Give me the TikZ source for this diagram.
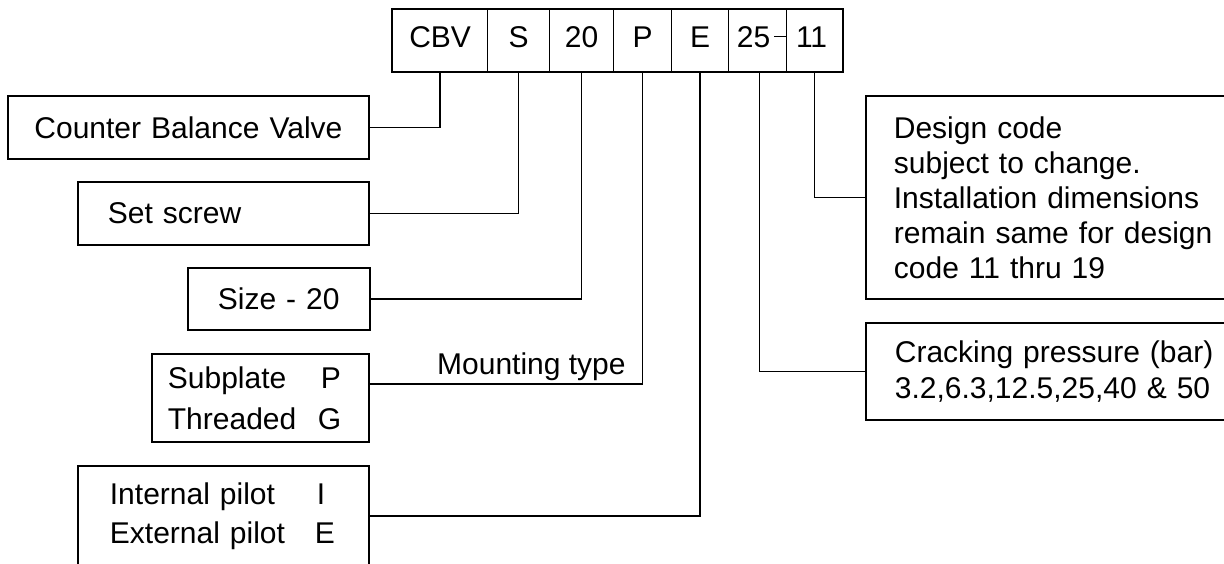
\documentclass[tikz,border=0pt]{standalone}
\usepackage{fontspec}
\setmainfont{Liberation Sans}
\begin{document}
\begin{tikzpicture}[x=1pt,y=-1pt,
  big/.style={font=\fontsize{30}{35}\selectfont},
  cell/.style={draw, line width=1.2pt, anchor=north west, minimum height=62pt,
    inner sep=0pt, text height=14pt, text depth=0pt, big},
  lbox/.style={draw, line width=1.8pt, anchor=north west, inner ysep=0pt, align=left, big},
  conn/.style={line width=1.3pt}]
\useasboundingbox (0,0) rectangle (1224,563);
\clip (0,0) rectangle (1224,563);
% code cells
\node[cell, minimum width=95pt] (cbv) at (392,9) {CBV};
\node[cell, minimum width=62pt] (s) at (487,9) {S};
\node[cell, minimum width=64pt] (n20) at (549,9) {20};
\node[cell, minimum width=58pt] (p) at (613,9) {P};
\node[cell, minimum width=57pt] (e) at (671,9) {E};
\node[cell, minimum width=58pt] (n25) at (728,9) {25\kern8pt};
\node[cell, minimum width=56pt] (n11) at (786,9) {11\kern6pt};
\draw[line width=1.8pt] (cbv.north west) rectangle (n11.south east);
\draw[conn] ([xshift=-13pt,yshift=4pt]n25.east) -- ([xshift=-1pt,yshift=4pt]n25.east);
% left boxes
\node[lbox, inner xsep=0pt, text width=361pt, align=center, minimum height=63pt] (cbvbox) at (7,95) {Counter Balance Valve};
\node[lbox, inner xsep=30pt, text width=231pt, minimum height=63pt] (setbox) at (77,181) {Set screw};
\node[lbox, inner xsep=30pt, text width=122pt, minimum height=62pt] (sizebox) at (187,267) {Size - 20};
\node[lbox, inner xsep=16pt, text width=185pt, minimum height=88pt, font=\fontsize{30}{41}\selectfont] (mountbox) at (151,353)
  {\makebox[153pt][l]{Subplate}P\\\makebox[150pt][l]{Threaded}G};
\node[lbox, inner xsep=32pt, text width=227pt, minimum height=100pt, font=\fontsize{30}{39}\selectfont] (pilotbox) at (77,465)
  {\makebox[207pt][l]{Internal pilot}I\\\makebox[205pt][l]{External pilot}E};
% right boxes
\node[lbox, inner xsep=28pt, text width=344pt, minimum height=203pt] (designbox) at (865,95)
  {Design code\\subject to change.\\Installation dimensions\\remain same for design\\code 11 thru 19};
\node[lbox, inner xsep=29pt, text width=342pt, minimum height=97pt, font=\fontsize{30}{36}\selectfont] (crackbox) at (865,322)
  {Cracking pressure (bar)\\3.2,6.3,12.5,25,40 \& 50};
\node[anchor=base west, inner sep=0pt, big] (mtype) at (437,374) {Mounting type};
% connectors
\draw[conn] (cbv.south) |- (cbvbox.east);
\draw[conn] (s.south) |- (setbox.east);
\draw[conn] (n20.south) |- (sizebox.east);
\draw[conn] (p.south) |- ([yshift=14pt]mountbox.east);
\draw[conn] (e.south) |- (pilotbox.east);
\draw[conn] ([xshift=2pt]n25.south) |- (crackbox.west);
\draw[conn] (n11.south) |- (designbox.west);
\end{tikzpicture}
\end{document}
